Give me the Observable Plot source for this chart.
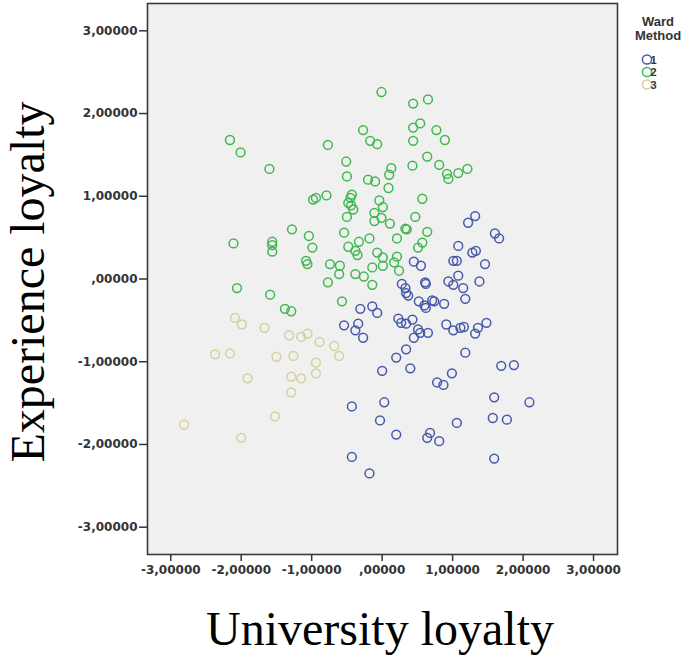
<!DOCTYPE html>
<html>
<head>
<meta charset="utf-8">
<script src="https://cdn.jsdelivr.net/npm/d3@7"></script>
<script src="https://cdn.jsdelivr.net/npm/@observablehq/plot@0.6"></script>
<style>
  html, body { margin: 0; padding: 0; background: #fff; }
  #chart { width: 685px; height: 657px; }
</style>
</head>
<body>
<div id="chart"></div>
<script>
// ---- Data ----
const clusterNames = ["1", "2", "3"];
const clusterColors = ["#4659ab", "#3fb84e", "#d5d09c"];
const xTicks = [-3, -2, -1, 0, 1, 2, 3];
const yTicks = [-3, -2, -1, 0, 1, 2, 3];
const xTitle = "University loyalty";
const yTitle = "Experience loyalty";
const legendTitle = ["Ward", "Method"];

// Ward cluster 1 (blue): [University loyalty, Experience loyalty]
const cluster1 = [
  [-0.31,-0.36],[-0.14,-0.33],[-0.07,-0.41],[-0.54,-0.56],[-0.34,-0.54],[-0.38,-0.62],[-0.27,-0.71],
  [0.34,-0.17],[0.37,-0.20],[0.28,-0.06],[0.33,-0.11],[0.61,-0.04],[0.62,-0.06],[0.45,0.21],[0.55,0.16],
  [1.32,0.76],[1.22,0.68],[1.60,0.55],[1.66,0.49],[1.08,0.40],[1.28,0.32],[1.33,0.34],[1.01,0.22],
  [1.06,0.22],[1.46,0.18],[1.08,0.04],[0.94,-0.03],[1.01,-0.07],[1.38,-0.03],[1.15,-0.11],[1.18,-0.24],
  [0.52,-0.27],[0.60,-0.32],[0.62,-0.35],[0.71,-0.26],[0.74,-0.27],[0.88,-0.30],[0.23,-0.48],[0.27,-0.53],
  [0.34,-0.54],[0.43,-0.49],[0.51,-0.61],[0.54,-0.65],[0.45,-0.71],[0.65,-0.65],[0.91,-0.55],[1.01,-0.62],
  [1.11,-0.59],[1.16,-0.58],[1.36,-0.59],[1.32,-0.66],[1.48,-0.53],[0.34,-0.85],[0.20,-0.95],[0.00,-1.11],
  [0.40,-1.08],[1.18,-0.89],[1.69,-1.05],[1.87,-1.04],[0.78,-1.25],[0.87,-1.28],[0.99,-1.14],[-0.43,-1.54],
  [0.03,-1.49],[-0.03,-1.71],[0.20,-1.88],[0.68,-1.86],[0.64,-1.92],[0.81,-1.96],[1.06,-1.74],[1.59,-1.43],
  [2.09,-1.49],[1.57,-1.68],[1.77,-1.70],[1.59,-2.17],[-0.43,-2.15],[-0.18,-2.35]
];

// Ward cluster 2 (green)
const cluster2 = [
  [-2.16,1.68],[-2.01,1.53],[-1.60,1.33],[-0.01,2.26],[-0.27,1.80],[-0.17,1.67],[-0.07,1.63],[-0.77,1.62],
  [-0.51,1.42],[-0.50,1.24],[-0.20,1.20],[-0.10,1.18],[0.09,1.10],[-0.79,1.01],[-0.94,0.98],[-0.98,0.96],
  [-0.43,1.02],[-0.45,0.98],[-0.48,0.92],[-0.44,0.89],[-0.41,0.84],[0.44,2.12],[0.65,2.17],[0.44,1.83],
  [0.54,1.88],[0.77,1.80],[0.89,1.68],[0.44,1.67],[0.64,1.48],[0.43,1.37],[0.81,1.38],[0.92,1.27],
  [0.94,1.21],[1.08,1.28],[1.21,1.33],[0.13,1.34],[0.10,1.26],[-0.04,0.95],[0.57,0.97],[0.01,0.87],
  [-0.11,0.80],[-0.11,0.70],[-0.01,0.74],[-0.50,0.75],[0.11,0.67],[0.47,0.75],[0.33,0.61],[0.35,0.60],
  [0.64,0.57],[0.21,0.49],[-0.54,0.56],[-1.28,0.60],[-1.04,0.52],[-2.11,0.43],[-1.56,0.45],[-1.56,0.41],
  [-1.56,0.33],[-0.99,0.38],[-0.48,0.39],[-0.33,0.45],[-0.18,0.49],[-0.38,0.34],[-0.35,0.29],[0.57,0.44],
  [0.51,0.38],[-0.07,0.32],[0.01,0.26],[0.21,0.27],[0.17,0.20],[-1.08,0.22],[-1.06,0.18],[-0.74,0.18],
  [-0.60,0.16],[-0.61,0.06],[-0.38,0.06],[-0.26,0.03],[-0.14,0.14],[0.01,0.16],[0.24,0.10],[-0.14,-0.07],
  [-0.77,-0.04],[-2.06,-0.11],[-1.59,-0.19],[-0.57,-0.27],[-1.38,-0.36],[-1.29,-0.39]
];

// Ward cluster 3 (beige)
const cluster3 = [
  [-2.09,-0.47],[-1.99,-0.55],[-1.67,-0.59],[-1.32,-0.68],[-1.15,-0.70],[-1.06,-0.66],[-0.89,-0.76],
  [-0.68,-0.81],[-0.61,-0.93],[-2.37,-0.91],[-2.16,-0.90],[-1.50,-0.94],[-1.26,-0.93],[-0.94,-1.01],
  [-0.94,-1.14],[-1.91,-1.20],[-1.29,-1.18],[-1.15,-1.20],[-1.29,-1.37],[-2.81,-1.76],[-1.52,-1.66],
  [-2.00,-1.92]
];

// ---- Build table ----
const rows = [];
[cluster1, cluster2, cluster3].forEach((pts, i) => {
  pts.forEach(([x, y]) => rows.push({x, y, ward: clusterNames[i]}));
});

const fmt = d => (d === 0 ? ",00000" : d.toFixed(5).replace(".", ",").replace(/^0/, ""));

const W = 685, H = 657;
const chart = Plot.plot({
  width: W,
  height: H,
  marginLeft: 147,
  marginRight: 68,
  marginTop: 3,
  marginBottom: 103,
  style: {fontFamily: "DejaVu Sans", fontSize: "12px", fontWeight: "bold", color: "#333", background: "#fff"},
  x: {domain: [-3.33, 3.34], label: null},
  y: {domain: [-3.33, 3.33], label: null},
  color: {domain: clusterNames, range: clusterColors},
  marks: [
    Plot.frame({fill: "#f0f0f0", stroke: "none"}),
    Plot.axisX({ticks: xTicks, tickFormat: fmt, tickSize: 7, tickPadding: 4, stroke: "#333", strokeWidth: 1.5, label: null}),
    Plot.axisY({ticks: yTicks, tickFormat: fmt, tickSize: 8, tickPadding: 2, stroke: "#333", strokeWidth: 1.5, label: null}),
    Plot.dot(rows, {x: "x", y: "y", stroke: "ward", r: 4.4, strokeWidth: 1.5, fill: "none"}),
    Plot.frame({stroke: "#3a3a3a", strokeWidth: 1.6})
  ]
});

const svg = d3.select(chart);
// Axis titles
svg.append("text")
  .attr("x", 380).attr("y", 645)
  .attr("text-anchor", "middle")
  .style("font-family", "'Liberation Serif', 'Times New Roman', serif")
  .style("font-size", "48px").style("font-weight", "normal").style("fill", "#000")
  .text(xTitle);
svg.append("text")
  .attr("transform", "translate(44,282) rotate(-90)")
  .attr("text-anchor", "middle")
  .style("font-family", "'Liberation Serif', 'Times New Roman', serif")
  .style("font-size", "48px").style("font-weight", "normal").style("fill", "#000")
  .text(yTitle);

// Legend
const lg = svg.append("g").style("font-family", "'Liberation Sans', Arial, sans-serif").style("font-weight", "bold").style("fill", "#333");
legendTitle.forEach((t, i) => {
  lg.append("text").attr("x", 658).attr("y", 26 + i * 14).attr("text-anchor", "middle")
    .style("font-size", "13px").text(t);
});
clusterNames.forEach((n, i) => {
  lg.append("circle").attr("cx", 647).attr("cy", 59.5 + i * 12.5).attr("r", 4.6)
    .attr("fill", "none").attr("stroke", clusterColors[i]).attr("stroke-width", 1.5);
  lg.append("text").attr("x", 653.5).attr("y", 63.5 + i * 12.5)
    .style("font-size", "11px").text(n);
});

document.getElementById("chart").append(chart);
</script>
</body>
</html>
